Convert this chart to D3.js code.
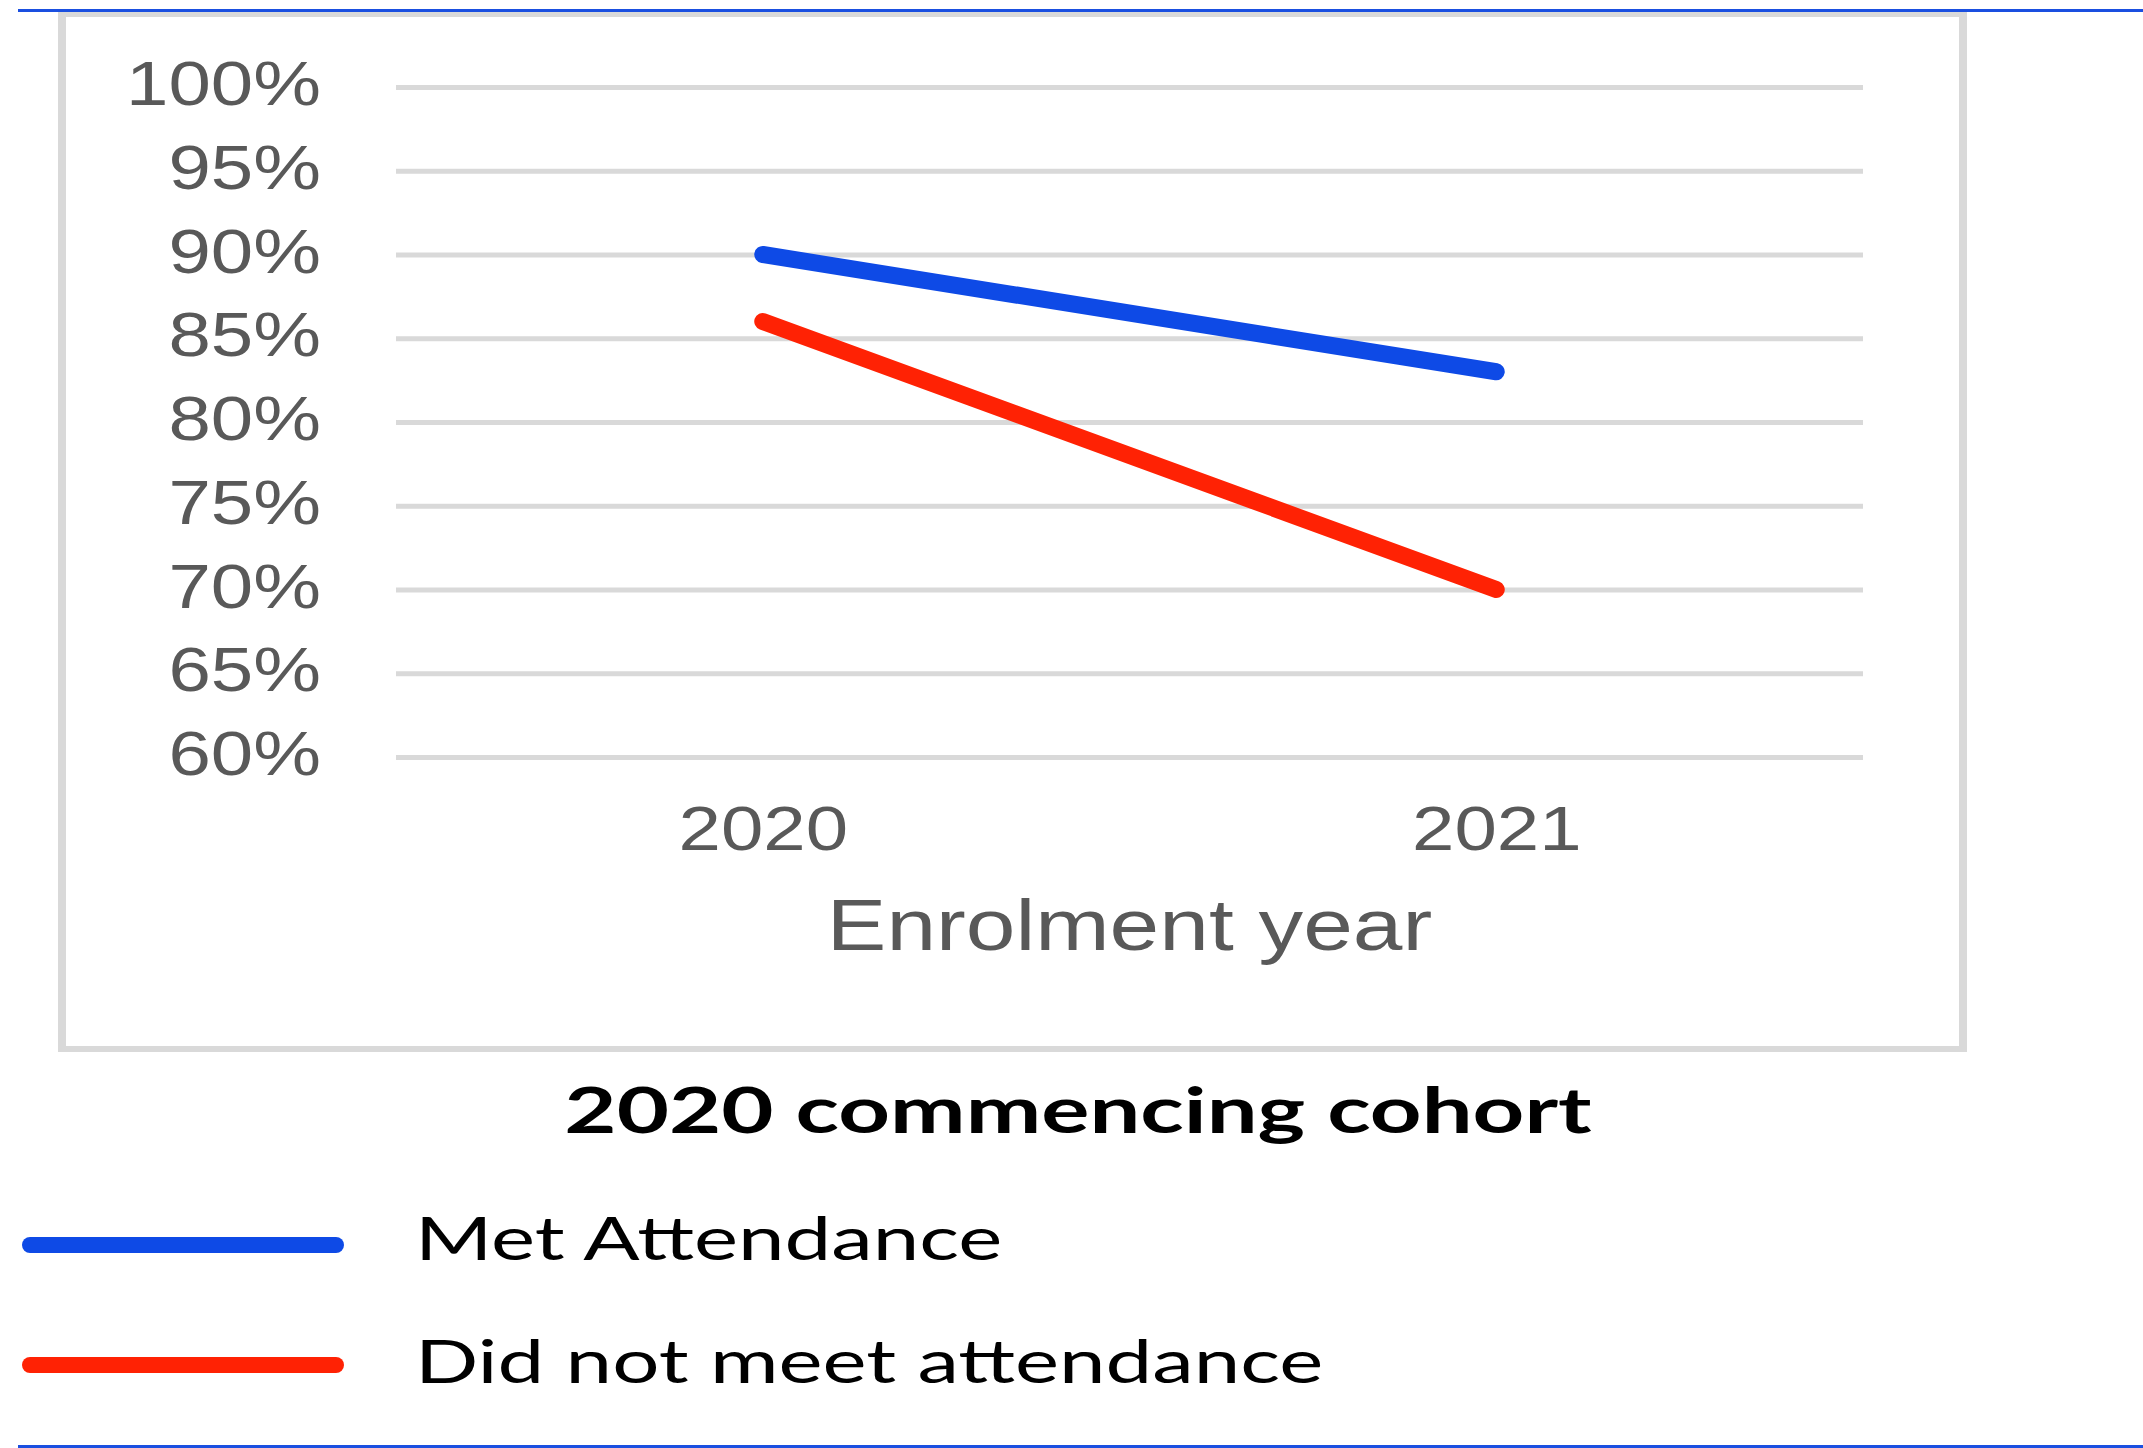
<!DOCTYPE html>
<html>
<head>
<meta charset="utf-8">
<script src="https://cdn.jsdelivr.net/npm/d3@7"></script>
<style>
  html, body { margin: 0; padding: 0; background: #ffffff; }
  svg { display: block; }
</style>
</head>
<body>
<script>
// ---- data ----
const categories = ["2020", "2021"];
const metAttendance = [90, 83];
const didNotMeetAttendance = [86, 70];
const yTickValues = [60, 65, 70, 75, 80, 85, 90, 95, 100];
const seriesNames = ["Met Attendance", "Did not meet attendance"];
const seriesColors = ["#0e4ae6", "#ff2204"];
const chartTitle = "2020 commencing cohort";
const xAxisTitle = "Enrolment year";

// ---- layout ----
const W = 2143, H = 1448;
const plot = { left: 396, right: 1863, top: 87, bottom: 757 };
const SX = 1.21;      // horizontal stretch of axis text
const SXA = 1.24;     // axis title stretch
const SXL = 1.39;     // legend text stretch
const SXT = 1.41;     // title stretch

const svg = d3.select("body").append("svg").attr("width", W).attr("height", H);
svg.append("rect").attr("width", W).attr("height", H).attr("fill", "#fff");

// frame lines (blue rules at top and bottom)
svg.append("rect").attr("x", 18).attr("y", 9).attr("width", W - 18).attr("height", 3).attr("fill", "#1a4fe0");
svg.append("rect").attr("x", 18).attr("y", 1445).attr("width", W - 18).attr("height", 3).attr("fill", "#1a4fe0");

// chart box border
const box = { x0: 58, x1: 1967, y0: 12, y1: 1052 };
const borderColor = "#d9d9d9";
svg.append("rect").attr("x", box.x0).attr("y", box.y0).attr("width", box.x1 - box.x0).attr("height", 5).attr("fill", borderColor);
svg.append("rect").attr("x", box.x0).attr("y", box.y1 - 6).attr("width", box.x1 - box.x0).attr("height", 6).attr("fill", borderColor);
svg.append("rect").attr("x", box.x0).attr("y", box.y0).attr("width", 8).attr("height", box.y1 - box.y0).attr("fill", borderColor);
svg.append("rect").attr("x", box.x1 - 8).attr("y", box.y0).attr("width", 8).attr("height", box.y1 - box.y0).attr("fill", borderColor);

// scales
const x = d3.scalePoint().domain(categories).range([plot.left, plot.right]).padding(0.5);
const y = d3.scaleLinear().domain([60, 100]).range([plot.bottom, plot.top]);

// y axis with gridlines
const yAxis = svg.append("g")
  .attr("transform", `translate(${plot.left},0)`)
  .call(d3.axisLeft(y).tickValues(yTickValues).tickSize(-(plot.right - plot.left)).tickFormat(d => d + "%"));
yAxis.select(".domain").remove();
yAxis.selectAll(".tick line").attr("stroke", "#d9d9d9").attr("stroke-width", 5);
yAxis.selectAll(".tick text")
  .attr("x", -75 / SX)
  .attr("dy", "0.28em")
  .attr("transform", `scale(${SX},1)`)
  .attr("text-anchor", "end")
  .attr("fill", "#595959")
  .style("font-family", "'Liberation Sans', Arial, sans-serif")
  .style("font-size", "63px");

// x axis
const xAxis = svg.append("g")
  .attr("transform", `translate(0,${plot.bottom})`)
  .call(d3.axisBottom(x).tickSize(0));
xAxis.select(".domain").remove();
xAxis.selectAll(".tick text")
  .attr("y", 93)
  .attr("dy", 0)
  .attr("transform", `scale(${SX},1)`)
  .attr("fill", "#595959")
  .style("font-family", "'Liberation Sans', Arial, sans-serif")
  .style("font-size", "63px");

// x axis title
svg.append("text")
  .attr("transform", `translate(${(plot.left + plot.right) / 2},950) scale(${SXA},1)`)
  .attr("text-anchor", "middle")
  .attr("fill", "#595959")
  .style("font-family", "'Liberation Sans', Arial, sans-serif")
  .style("font-size", "72px")
  .text(xAxisTitle);

// lines
const series = [metAttendance, didNotMeetAttendance];
const line = d3.line().x((d, i) => x(categories[i])).y(d => y(d));
svg.append("g").selectAll("path").data(series).join("path")
  .attr("d", d => line(d))
  .attr("fill", "none")
  .attr("stroke", (d, i) => seriesColors[i])
  .attr("stroke-width", 17)
  .attr("stroke-linecap", "round")
  .attr("stroke-linejoin", "round");

// title
svg.append("text")
  .attr("transform", `translate(1078,1133) scale(${SXT},1)`)
  .attr("text-anchor", "middle")
  .attr("fill", "#000")
  .style("font-family", "Lato, 'Noto Sans', sans-serif")
  .style("font-weight", "bold")
  .style("font-size", "64px")
  .text(chartTitle);

// legend
const legendY = [1245, 1365];
const legendBase = [1260, 1383];
const lg = svg.append("g");
lg.selectAll("line").data(seriesNames).join("line")
  .attr("x1", 30).attr("x2", 336)
  .attr("y1", (d, i) => legendY[i]).attr("y2", (d, i) => legendY[i])
  .attr("stroke", (d, i) => seriesColors[i])
  .attr("stroke-width", 16)
  .attr("stroke-linecap", "round");
lg.selectAll("text").data(seriesNames).join("text")
  .attr("transform", (d, i) => `translate(415,${legendBase[i]}) scale(${SXL},1)`)
  .attr("fill", "#000")
  .style("font-family", "Lato, 'Noto Sans', sans-serif")
  .style("font-size", "60px")
  .text(d => d);
</script>
</body>
</html>
